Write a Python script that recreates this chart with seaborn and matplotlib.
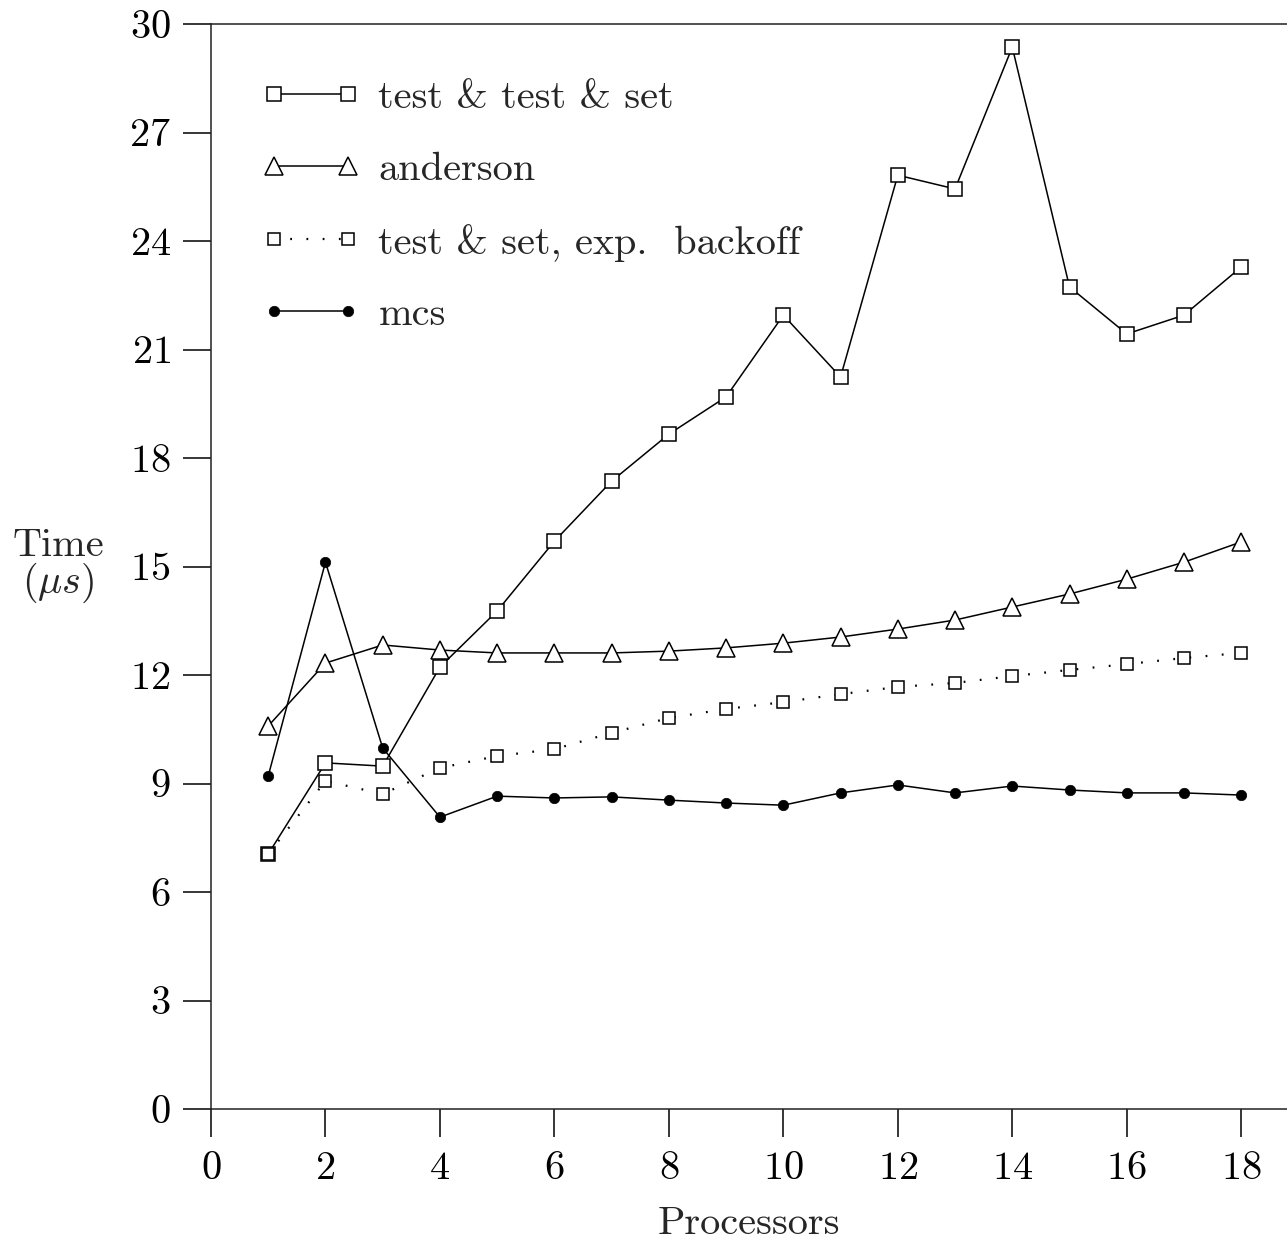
import matplotlib
matplotlib.use("Agg")
import matplotlib.pyplot as plt
import seaborn as sns

processors = list(range(1, 19))
tts = [7.05, 9.57, 9.48, 12.22, 13.77, 15.70, 17.36, 18.66, 19.69, 21.95,
       20.24, 25.82, 25.44, 29.36, 22.73, 21.43, 21.95, 23.28]
anderson = [10.59, 12.33, 12.83, 12.69, 12.61, 12.61, 12.61, 12.66, 12.75, 12.88,
            13.05, 13.27, 13.52, 13.88, 14.24, 14.65, 15.12, 15.68]
backoff = [7.05, 9.07, 8.71, 9.43, 9.76, 9.95, 10.40, 10.81, 11.06, 11.25,
           11.47, 11.67, 11.78, 11.97, 12.14, 12.30, 12.47, 12.61]
mcs = [9.21, 15.12, 9.98, 8.07, 8.65, 8.60, 8.63, 8.54, 8.46, 8.40,
       8.74, 8.96, 8.74, 8.93, 8.82, 8.74, 8.74, 8.68]

labels = ["test & test & set", "anderson", "test & set, exp.  backoff", "mcs"]
yticks = [0, 3, 6, 9, 12, 15, 18, 21, 24, 27, 30]
xticks = [0, 2, 4, 6, 8, 10, 12, 14, 16, 18]

sns.set_style("ticks")
plt.rcParams["font.family"] = ["cmr10", "DejaVu Serif"]
plt.rcParams["mathtext.fontset"] = "cm"
plt.rcParams["axes.unicode_minus"] = False
plt.rcParams["axes.formatter.use_mathtext"] = True

FS = 29
fig = plt.figure(figsize=(12.87, 12.40), dpi=100)
ax = fig.add_axes([211 / 1287, 131 / 1240, 1 - 211 / 1287, (1216 - 131) / 1240])

lw = 1.1
sns.lineplot(x=processors, y=tts, ax=ax, color="black", lw=lw, marker="s",
             markersize=10, markerfacecolor="white", markeredgecolor="black",
             markeredgewidth=1.1, label=labels[0])
sns.lineplot(x=processors, y=anderson, ax=ax, color="black", lw=lw, marker="^",
             markersize=13.5, markerfacecolor="white", markeredgecolor="black",
             markeredgewidth=1.1, label=labels[1])
sns.lineplot(x=processors, y=backoff, ax=ax, color="black", lw=1.6,
             linestyle=(0, (0.8, 6.5)), marker="s",
             markersize=9, markerfacecolor="white", markeredgecolor="black",
             markeredgewidth=1.1, label=labels[2])
sns.lineplot(x=processors, y=mcs, ax=ax, color="black", lw=lw, marker="o",
             markersize=7.5, markerfacecolor="black", markeredgecolor="black",
             markeredgewidth=0.5, label=labels[3])

ax.set_xlim(0, 18.8)
ax.set_ylim(0, 30)
ax.set_xticks(xticks)
ax.set_yticks(yticks)
ax.tick_params(axis="both", direction="out", length=20, width=1.1,
               labelsize=FS, colors="black")
ax.tick_params(axis="x", pad=10)
ax.tick_params(axis="y", pad=9)
for s in ["left", "bottom", "top"]:
    ax.spines[s].set_visible(True)
    ax.spines[s].set_linewidth(1.1)
    ax.spines[s].set_color("#222222")
ax.spines["right"].set_visible(False)

ax.set_xlabel("Processors", fontsize=FS, labelpad=14)
ax.set_ylabel("Time\n$(\\mu s)$", fontsize=FS, rotation=0, ha="center",
              va="center", linespacing=0.9)
ax.yaxis.set_label_coords(-0.142, 0.5)

leg = ax.legend(loc="upper left", bbox_to_anchor=(0.032, 0.963), frameon=False,
                fontsize=FS, handlelength=2.45, handletextpad=0.45,
                labelspacing=0.88, borderaxespad=0, numpoints=2)

fig.savefig("out.png", dpi=100)
